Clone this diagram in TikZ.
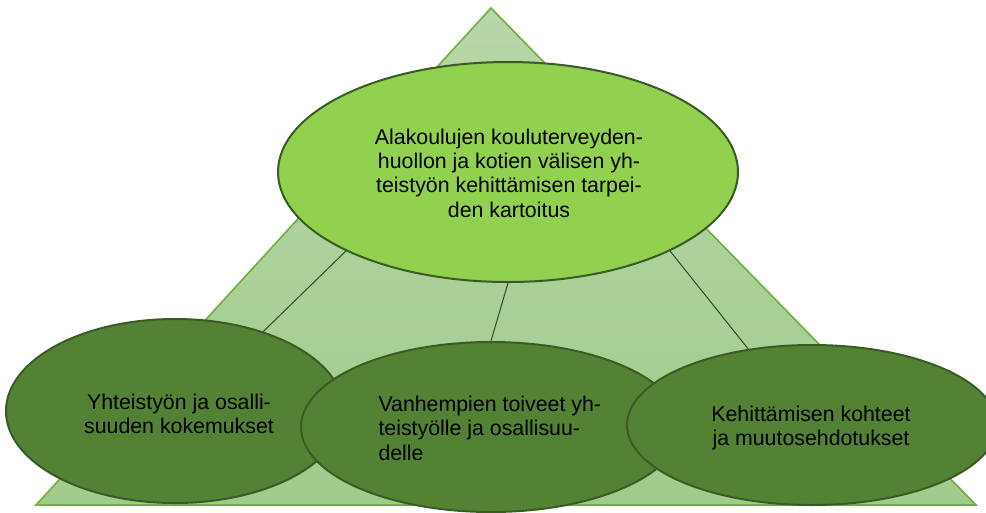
\documentclass[tikz,border=0pt]{standalone}
\usepackage{fontspec}
\setmainfont{Liberation Sans}
\usetikzlibrary{shapes.geometric}

\definecolor{triTop}{HTML}{B6D7A8}
\definecolor{triBot}{HTML}{A1CB8B}
\definecolor{triEdge}{HTML}{70AD47}
\definecolor{topFill}{HTML}{92D050}
\definecolor{lowFill}{HTML}{548235}
\definecolor{ellEdge}{HTML}{3A5B24}
\definecolor{linkDark}{HTML}{2F4A1E}

\tikzset{every picture/.style={line width=0.75pt}}
\tikzset{
  ellbox/.style={ellipse, draw=ellEdge, line width=1.5pt, inner sep=0pt},
  lbl/.style={inner sep=0pt, font=\fontsize{16}{18.3}\selectfont}
}

\begin{document}
\begin{tikzpicture}[x=0.75pt,y=0.75pt,yscale=-1,xscale=1]
\useasboundingbox (0,0) rectangle (986,512);

%Shape: Triangle [id:pyramid]
\draw [color=triEdge, top color=triTop, bottom color=triBot, line width=1.2pt] (491,8) -- (976,505) -- (36,505) -- cycle ;

%Shape: Ellipse [id:top]
\node [ellbox, fill=topFill, minimum width=345pt, minimum height=165pt] (top) at (508,172) {};
%Shape: Ellipse [id:left]
\node [ellbox, fill=lowFill, minimum width=253.5pt, minimum height=138pt] (left) at (175,411) {};
%Shape: Ellipse [id:mid]
\node [ellbox, fill=lowFill, minimum width=285pt, minimum height=127.5pt] (mid) at (491,427) {};
%Shape: Ellipse [id:right]
\node [ellbox, fill=lowFill, minimum width=277.5pt, minimum height=120pt] (right) at (812,425) {};

%Straight Lines
\draw [color=linkDark] (top.206) -- (left.42) ;
\draw [color=linkDark] (top.270) -- (mid.90) ;
\draw [color=linkDark] (top.334) -- (right.130) ;

% Text Node
\node [lbl, align=center] (toptxt) at (509,173) {Alakoulujen kouluterveyden-\\huollon ja kotien välisen yh-\\teistyön kehittämisen tarpei-\\den kartoitus};
% Text Node
\node [lbl, align=center] (lefttxt) at (179,414) {Yhteistyön ja osalli-\\suuden kokemukset};
% Text Node
\node [lbl, align=left, anchor=west] (midtxt) at (378,428) {Vanhempien toiveet yh-\\teistyölle ja osallisuu-\\delle};
% Text Node
\node [lbl, align=center] (righttxt) at (811,428) {Kehittämisen kohteet\\ja muutosehdotukset};

\end{tikzpicture}
\end{document}
